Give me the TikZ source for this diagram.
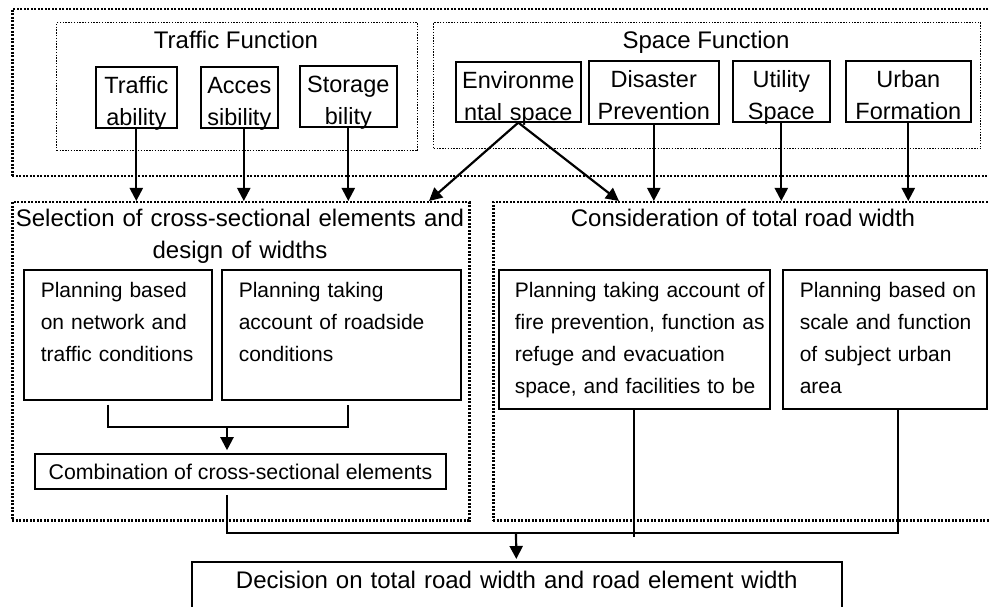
\documentclass[tikz,border=0pt]{standalone}
\usepackage{fontspec}
\setmainfont{Liberation Sans}
\usetikzlibrary{arrows.meta, positioning}

\newcommand{\planindent}[1]{\leftskip=#1\relax}

\begin{document}
\begin{tikzpicture}[
            x = 1pt, y = -1pt, % one unit per pixel, y runs downward
            > = {Triangle[length=13pt, width=13pt]}, % arrow head style
            line width = 2.2pt % line style
        ]

        \tikzstyle{group}=[
            draw = black,
            line width = 2.5pt,
            dash pattern = on 2pt off 1.5pt,
            inner sep = 0pt,
            anchor = north west
        ]
        \tikzstyle{subgroup}=[group, line width = 1.4pt, dash pattern = on 1.4pt off 1.4pt]
        \tikzstyle{title}=[inner sep = 0pt, font = \fontsize{24}{32}\selectfont]
        \tikzstyle{item}=[
            draw = black,
            line width = 1.6pt,
            anchor = north west,
            align = center,
            inner sep = 0pt,
            text height = 26.5pt,
            text depth = 35pt,
            font = \fontsize{23.5}{32}\selectfont
        ]
        \tikzstyle{plan}=[
            draw = black,
            line width = 1.6pt,
            anchor = north west,
            align = left,
            inner sep = 0pt,
            text height = 28pt,
            font = \fontsize{21}{32}\selectfont,
            execute at begin node = {\planindent{17pt}}
        ]

        \useasboundingbox (0,0) rectangle (989,607);

        % functions
        \node[group, minimum width=989pt, minimum height=167pt] (upper) at (11,8) {};
        \node[subgroup, minimum width=361pt, minimum height=128pt] (traffic) at (56,22) {};
        \node[subgroup, minimum width=547pt, minimum height=126pt] (space) at (433,22) {};
        \node[title, anchor=base] (tft) at (236,49) {Traffic Function};
        \node[title, anchor=base] (sft) at (706,49) {Space Function};

        \node[item, text width=81pt] (tab) at (95,66) {Traffic\\ability};
        \node[item, text width=77pt] (acc) at (200,66) {Acces\\sibility};
        \node[item, text width=97pt] (sto) at (299,65) {Storage\\bility};
        \node[item, text width=125pt, text depth=33.5pt] (env) at (455,61) {Environme\\ntal space};
        \node[item, text width=130pt, text depth=36.5pt] (dis) at (588,60) {Disaster\\Prevention};
        \node[item, text width=97pt] (uti) at (732,60) {Utility\\Space};
        \node[item, text width=125pt] (urb) at (845,60) {Urban\\Formation};

        % cross section and total width
        \node[group, minimum width=457pt, minimum height=318pt] (sel) at (11,201) {};
        \node[group, minimum width=510pt, minimum height=318pt] (con) at (492,201) {};
        \node[title, text width=460pt, align=center, anchor=base] (selt) at (240,227)
            {Selection of cross-sectional elements and\\design of widths};
        \node[title, anchor=base] (cont) at (743,227) {Consideration of total road width};

        \node[plan, text width=188pt, text depth=102pt] (pnet) at (23,269)
            {Planning based\\on network and\\traffic conditions};
        \node[plan, text width=239pt, text depth=102pt] (proad) at (221,269)
            {Planning taking\\account of roadside\\conditions};
        \node[plan, text width=271pt, text depth=111pt, execute at begin node={\planindent{16pt}}] (pfire) at (498,269)
            {Planning taking account of\\fire prevention, function as\\refuge and evacuation\\space, and facilities to be};
        \node[plan, text width=204pt, text depth=111pt] (pscale) at (782,269)
            {Planning based on\\scale and function\\of subject urban\\area};

        \node[draw, line width=1.6pt, inner sep=0pt, minimum width=411pt, minimum height=35pt,
            font=\fontsize{21.3}{26}\selectfont] (comb) at (240.5,471.5)
            {Combination of cross-sectional elements};

        \node[draw, line width=1.6pt, anchor=north west, inner sep=0pt, text width=650pt,
            align=center, text height=27pt, text depth=32pt,
            font=\fontsize{24}{32}\selectfont] (dec) at (191,561)
            {Decision on total road width and road element width};

        \coordinate (envl) at (429,201);
        \coordinate (envr) at (619,201);
        \coordinate (joina) at (227,427);
        \coordinate (joinb) at (516,533);

        \path[->] (tab) edge (tab |- sel.north);
        \path[->] ([xshift=4.5pt]acc.south) edge ([xshift=4.5pt]acc.south |- sel.north);
        \path[->] (sto) edge (sto |- sel.north);
        \path[->] (env.south) edge (envl);
        \path[->] (env.south) edge (envr);
        \path[->] (dis) edge (dis |- con.north);
        \path[->] (uti) edge (uti |- con.north);
        \path[->] (urb) edge (urb |- con.north);

        \draw ([xshift=-10pt,yshift=-4pt]pnet.south) |- (joina) -| ([xshift=6.5pt,yshift=-4pt]proad.south);
        \path[->, shorten >=3pt] (joina) edge (joina |- comb.north);

        \draw ([xshift=-13.5pt,yshift=-5pt]comb.south) |- (joinb) -| ([xshift=13pt]pscale.south);
        \draw (pfire.south) -- ++(0,127);
        \path[->, shorten >=2pt] (joinb) edge (dec);
    \end{tikzpicture}
\end{document}
